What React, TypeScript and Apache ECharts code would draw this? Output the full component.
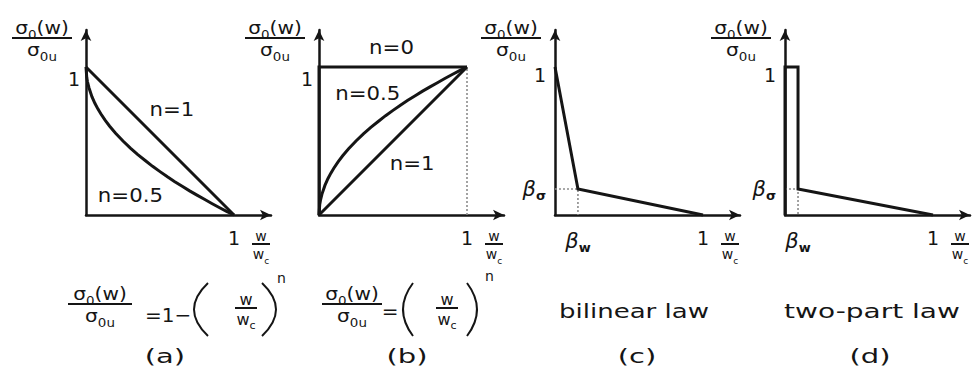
import { useEffect, useRef } from 'react';
import * as echarts from 'echarts';

const FONT = 'DejaVu Sans';
const INK = '#151515';
const GUIDE = '#8c8c8c';

// normalised crack opening w/wc at which the power-law curves are sampled
const openingSamples = [0, 0.005, 0.01, 0.02, 0.04, 0.06, 0.08, 0.1, 0.13, 0.16, 0.2, 0.25, 0.3, 0.35, 0.4, 0.45, 0.5, 0.55, 0.6, 0.65, 0.7, 0.75, 0.8, 0.85, 0.9, 0.95, 1];

// (a) softening laws σ0/σ0u = 1 − (w/wc)^n
const softeningHalf = [1, 0.93, 0.9, 0.86, 0.8, 0.755, 0.717, 0.684, 0.639, 0.6, 0.553, 0.5, 0.452, 0.408, 0.368, 0.329, 0.293, 0.258, 0.225, 0.194, 0.163, 0.134, 0.106, 0.078, 0.051, 0.025, 0];
const softeningLinear = [[0, 1], [1, 0]];

// (b) hardening laws σ0/σ0u = (w/wc)^n
const hardeningStep = [[0, 0], [0, 1], [1, 1]];
const hardeningHalf = [0, 0.071, 0.1, 0.141, 0.2, 0.245, 0.283, 0.316, 0.361, 0.4, 0.447, 0.5, 0.548, 0.592, 0.632, 0.671, 0.707, 0.742, 0.775, 0.806, 0.837, 0.866, 0.894, 0.922, 0.949, 0.975, 1];
const hardeningLinear = [[0, 0], [1, 1]];
const hardeningLimit = [[1, 0], [1, 1]];

// (c) bilinear law: kink at (βw, βσ)
const bilinearBetaW = 0.155;
const bilinearBetaSigma = 0.176;

// (d) two-part law: constant stress up to βw, then linear from βσ
const twoPartBetaW = 0.088;
const twoPartBetaSigma = 0.176;

// curve annotations, in axis units of their panel
const curveNotes = [
  { panel: 0, w: 0.58, s: 0.715, text: 'n=1' },
  { panel: 0, w: 0.3, s: 0.135, text: 'n=0.5' },
  { panel: 1, w: 0.49, s: 1.13, text: 'n=0' },
  { panel: 1, w: 0.33, s: 0.82, text: 'n=0.5' },
  { panel: 1, w: 0.63, s: 0.35, text: 'n=1' },
];

const panelTitles = ['bilinear law', 'two-part law'];
const panelTags = ['(a)', '(b)', '(c)', '(d)'];

// layout
const PANEL_LEFT = [86, 319, 555, 785];
const GRID_TOP = 30;
const GRID_SIZE = 185;
const AXIS_MAX = 1.25;

const pair = (xs: number[], ys: number[]) => xs.map((x, i) => [x, ys[i]]);

// rich styles for quantities with a dropped subscript
const mathRich = (size: number) => ({
  m: { fontSize: size, fontFamily: FONT, lineHeight: size + 8, fill: INK, color: INK },
  s: { fontSize: Math.round(size * 0.66), fontFamily: FONT, lineHeight: Math.round(size * 0.66), verticalAlign: 'bottom', fill: INK, color: INK },
});

const betaRich = {
  b: { fontSize: 21, fontFamily: FONT, fontStyle: 'italic', lineHeight: 26, color: INK },
  s: { fontSize: 13, fontFamily: FONT, fontWeight: 'bold', lineHeight: 13, verticalAlign: 'bottom', color: INK },
  n: { fontSize: 19, fontFamily: FONT, lineHeight: 20, color: INK },
  gap: { fontSize: 10, lineHeight: 24, color: INK },
  gap2: { fontSize: 10, lineHeight: 16, color: INK },
};

function buildOption() {
  const grid = PANEL_LEFT.map((left) => ({ left, top: GRID_TOP, width: GRID_SIZE, height: GRID_SIZE }));
  const axisLine = {
    show: true,
    symbol: ['none', 'arrow'],
    symbolSize: [8, 11],
    lineStyle: { color: INK, width: 2.5 },
  };
  const xTicks = [[1], [1], [bilinearBetaW, 1], [twoPartBetaW, 1]];
  const yTicks = [[1], [1], [bilinearBetaSigma, 1], [twoPartBetaSigma, 1]];

  const xAxis = PANEL_LEFT.map((_, g) => ({
    type: 'value',
    gridIndex: g,
    min: 0,
    max: AXIS_MAX,
    axisLine,
    axisTick: { show: false },
    splitLine: { show: false },
    axisLabel: {
      customValues: xTicks[g],
      margin: 13,
      verticalAlign: 'top',
      formatter: (v: number) => (v === 1 ? '{n|1}' : '{b|β}{s|w}'),
      rich: betaRich,
    },
  }));
  const yAxis = PANEL_LEFT.map((_, g) => ({
    type: 'value',
    gridIndex: g,
    min: 0,
    max: AXIS_MAX,
    axisLine,
    axisTick: { show: false },
    splitLine: { show: false },
    axisLabel: {
      customValues: yTicks[g],
      margin: g < 2 ? 6 : 9,
      verticalAlign: 'middle',
      formatter: (v: number) => (v === 1 ? (g < 2 ? '{gap| }\n{n|1}' : '{gap2| }\n{n|1}') : '{b|β}{s|σ}'),
      rich: betaRich,
    },
  }));

  const curve = (g: number, data: number[][]) => ({
    type: 'line',
    xAxisIndex: g,
    yAxisIndex: g,
    data,
    symbol: 'none',
    clip: false,
    silent: true,
    z: 4,
    lineStyle: { color: INK, width: 3, join: 'miter' },
  });
  const guide = (g: number, data: number[][]) => ({
    type: 'line',
    xAxisIndex: g,
    yAxisIndex: g,
    data,
    symbol: 'none',
    clip: false,
    silent: true,
    z: 3,
    lineStyle: { color: GUIDE, width: 1.6, type: [2, 2] },
  });

  const series = [
    curve(0, softeningLinear),
    curve(0, pair(openingSamples, softeningHalf)),
    guide(1, hardeningLimit),
    curve(1, hardeningStep),
    curve(1, pair(openingSamples, hardeningHalf)),
    curve(1, hardeningLinear),
    guide(2, [[0, bilinearBetaSigma], [bilinearBetaW, bilinearBetaSigma], [bilinearBetaW, 0]]),
    curve(2, [[0, 1], [bilinearBetaW, bilinearBetaSigma], [1, 0]]),
    guide(3, [[0, twoPartBetaSigma], [twoPartBetaW, twoPartBetaSigma], [twoPartBetaW, 0]]),
    curve(3, [[0, 0], [0, 1], [twoPartBetaW, 1], [twoPartBetaW, twoPartBetaSigma], [1, 0]]),
  ];

  return {
    animation: false,
    backgroundColor: '#ffffff',
    textStyle: { fontFamily: FONT, color: INK },
    grid,
    xAxis,
    yAxis,
    series,
  };
}

type El = Record<string, unknown>;

function text(x: number, y: number, str: string, size: number, opts: El = {}): El {
  const { scaleX = 1, align = 'center', vAlign = 'middle', rich } = opts as any;
  return {
    type: 'text',
    x,
    y,
    scaleX,
    silent: true,
    style: {
      text: str,
      fontSize: size,
      fontFamily: FONT,
      fill: INK,
      align,
      textAlign: align,
      verticalAlign: vAlign,
      textVerticalAlign: vAlign,
      rich,
    },
  };
}

function fraction(cx: number, lineY: number, num: string, den: string, width: number, size: number, scaleX = 1): El[] {
  const rich = mathRich(size);
  return [
    text(cx, lineY + 3, num, size, { vAlign: 'bottom', rich, scaleX }),
    {
      type: 'line',
      silent: true,
      shape: { x1: cx - width / 2, y1: lineY, x2: cx + width / 2, y2: lineY },
      style: { stroke: INK, lineWidth: 2 },
    },
    text(cx, lineY - 1, den, size, { vAlign: 'top', rich, scaleX }),
  ];
}

function paren(tipX: number, bulgeX: number, top: number, bottom: number): El {
  return {
    type: 'bezierCurve',
    silent: true,
    shape: { x1: tipX, y1: top, x2: tipX, y2: bottom, cpx1: 2 * bulgeX - tipX, cpy1: (top + bottom) / 2 },
    style: { stroke: INK, lineWidth: 2, fill: null },
  };
}

const SIGMA_NUM = '{m|σ}{s|0}{m|(w)}';
const SIGMA_DEN = '{m|σ}{s|0u}';
const OPEN_NUM = '{m|w}';
const OPEN_DEN = '{m|w}{s|c}';

function buildGraphic(chart: echarts.ECharts): El[] {
  const px = (g: number, x: number, y: number) => chart.convertToPixel({ gridIndex: g }, [x, y]) as number[];
  const els: El[] = [];

  PANEL_LEFT.forEach((_, g) => {
    const [ox, oy] = px(g, 0, 0);
    const [x1] = px(g, 1, 0);
    // stress axis name
    els.push(...fraction(ox - 44, 38, SIGMA_NUM, SIGMA_DEN, 60, 18, 1.12));
    // opening axis name
    els.push(...fraction(x1 + 27, oy + 29, OPEN_NUM, OPEN_DEN, 18, 14));
  });

  curveNotes.forEach((n) => {
    const [x, y] = px(n.panel, n.w, n.s);
    els.push(text(x, y, n.text, 19, { scaleX: 1.12 }));
  });

  // formula under (a)
  els.push(...fraction(100, 304, SIGMA_NUM, SIGMA_DEN, 64, 18, 1.12));
  els.push(text(145, 315, '=1−', 20, { align: 'left' }));
  els.push(paren(208, 194, 283, 336));
  els.push(...fraction(246, 308, OPEN_NUM, OPEN_DEN, 22, 16));
  els.push(paren(262, 276, 283, 336));
  els.push(text(277, 278, 'n', 14, { align: 'left' }));

  // formula under (b)
  els.push(...fraction(352, 304, SIGMA_NUM, SIGMA_DEN, 60, 18, 1.12));
  els.push(text(390, 311, '=', 20));
  els.push(paren(413, 403, 283, 336));
  els.push(...fraction(447, 308, OPEN_NUM, OPEN_DEN, 22, 16));
  els.push(paren(467, 477, 283, 336));
  els.push(text(485, 276, 'n', 14, { align: 'left' }));

  // law names and panel tags
  els.push(text(634, 311, panelTitles[0], 20, { scaleX: 1.3 }));
  els.push(text(872, 311, panelTitles[1], 20, { scaleX: 1.4 }));
  [165, 407, 637, 870].forEach((cx, i) => {
    els.push(text(cx, 356, panelTags[i], 20, { scaleX: 1.45 }));
  });

  return els;
}

export default function App() {
  const ref = useRef<HTMLDivElement>(null);
  useEffect(() => {
    const chart = echarts.init(ref.current!, undefined, { renderer: 'svg' });
    chart.setOption(buildOption() as any);
    chart.setOption({ graphic: buildGraphic(chart) } as any);
    return () => chart.dispose();
  }, []);
  return (
    <div
      ref={ref}
      style={{ position: 'absolute', left: 0, top: 0, width: 973, height: 374, background: '#fff' }}
    />
  );
}
